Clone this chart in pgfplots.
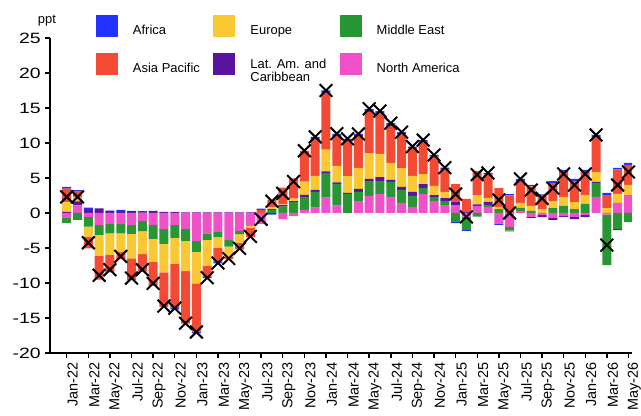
\documentclass[border=0pt]{standalone}
\usepackage{fontspec}
\setmainfont{Liberation Sans}
\newfontfamily\yfont[FakeStretch=1.3]{Liberation Sans}
\usepackage{pgfplots}
\usepackage{pgfplotstable}
\pgfplotsset{compat=1.18}

\definecolor{cAF}{RGB}{34,51,255}
\definecolor{cAP}{RGB}{242,74,53}
\definecolor{cEU}{RGB}{250,200,50}
\definecolor{cLA}{RGB}{90,20,160}
\definecolor{cME}{RGB}{40,150,50}
\definecolor{cNA}{RGB}{240,80,200}

% contributions by region (ppt), month index 0 = Jan-22
\pgfplotstableread{
x  NA    ME    LA    EU    AP    AF    tot
0  -0.70 -0.70  0.15  1.43  1.90  0.24  2.30
1   1.10 -1.00  0.57  0.60  0.80  0.20  2.30
2  -0.55 -1.40  0.55 -1.50 -1.60  0.20 -4.25
3  -1.70 -1.43  0.65 -3.00 -3.40  0.00 -8.90
4  -1.60 -1.30  0.30 -3.10 -2.50  0.05 -8.10
5  -1.60 -1.30  0.25 -2.70 -1.00  0.20 -6.20
6  -1.70 -1.30  0.30 -3.50 -3.10  0.00 -9.30
7  -1.15 -1.43  0.10 -3.30 -2.50  0.15 -8.10
8  -1.70 -2.00  0.30 -3.30 -3.40  0.00 -10.05
9  -2.30 -2.10  0.15 -4.10 -4.90  0.00 -13.30
10 -1.70 -1.86  0.15 -3.70 -6.30 -0.20 -13.60
11 -2.30 -1.70  0.10 -4.30 -7.50  0.00 -15.75
12 -4.00 -1.57  0.10 -4.50 -6.86 -0.24 -17.00
13 -2.90 -0.95  0.10 -3.70 -1.50 -0.24 -9.25
14 -2.70 -0.76  0.10 -1.50 -2.00 -0.24 -7.15
15 -3.86 -0.95  0.10 -1.43 -0.35  0.00 -6.50
16 -2.60 -0.43  0.10 -1.20 -0.95  0.00 -5.05
17 -1.70 -0.10  0.10 -0.30 -1.30  0.00 -3.35
18 -1.57  0.00  0.00  0.00  0.43  0.20 -0.90
19  0.00  0.45  0.10  0.25  1.10 -0.25  1.68
20 -0.86  0.90  0.24  0.10  2.40  0.00  2.80
21 -0.43  1.57  0.14  0.33  2.90  0.00  4.50
22  0.43  1.86  0.30  1.90  4.40  0.00  8.89
23  0.76  2.24  0.29  2.00  5.30  0.29 10.88
24  2.20  3.50  0.24  3.10  8.10  0.38 17.50
25  1.05  3.10  0.24  2.33  4.30  0.29 11.33
26  0.00  2.70  0.19  2.38  5.00  0.33 10.60
27  1.71  1.29  0.43  3.00  4.57  0.29 11.29
28  2.43  2.14  0.29  3.70  5.90  0.43 14.89
29  2.70  1.86  0.57  3.30  5.80  0.33 14.56
30  2.29  2.14  0.29  2.43  5.30  0.38 12.83
31  1.43  1.86  0.43  2.70  4.80  0.33 11.55
32  0.86  1.57  0.57  2.30  4.00  0.19  9.49
33  2.70  0.86  0.57  1.43  4.57  0.29 10.42
34  1.71  0.57  0.29  1.29  4.19  0.24  8.29
35  1.14  0.57  0.43  0.86  3.24  0.24  6.48
36  1.14 -1.29  0.48  0.00  2.52 -0.14  2.71
37 -0.52 -1.90  0.20  0.00  1.80 -0.14 -0.56
38  1.00 -0.52  0.24  1.33  3.43  0.00  5.48
39  0.86  0.29  0.43  0.57  3.38  0.19  5.72
40 -1.57  0.57  0.00  0.29  2.71 -0.14  1.86
41 -2.00 -0.52  0.00 -0.19  2.52  0.19  0.00
42  0.29  0.43  0.00  0.71  3.14  0.29  4.86
43 -0.57  0.29 -0.14  0.71  2.81  0.19  3.29
44 -0.29  0.00 -0.29  0.57  2.00  0.10  2.09
45 -0.71  0.71 -0.29  1.00  2.57  0.29  3.57
46 -0.43  1.00 -0.14  1.29  3.57  0.29  5.58
47 -0.57  0.57 -0.29  1.00  3.00  0.29  4.00
48 -0.29  1.29 -0.29  1.29  3.29  0.29  5.58
49  2.29  2.00  0.14  1.43  5.00  0.29 11.15
50 -0.25 -7.20  0.00  0.71  1.86  0.29 -4.59
51  1.43 -2.29 -0.14  1.29  3.52  0.19  4.00
52  2.57 -1.29  0.00  1.43  2.86  0.29  5.86
}\contrib

\pgfplotsset{
  frame/.style={scale only axis, width=582bp, height=315bp,
    xmin=-1.55, xmax=52.33, ymin=-20, ymax=25},
  bars/.style={frame, ybar stacked, bar width=9bp},
}

\begin{document}
\begin{tikzpicture}
% positive contributions stacked upward, with axes and legend
\begin{axis}[bars, name=ax,
  axis lines=left,
  axis line style={-, line width=1.4bp, black},
  tick style={line width=1.4bp, black},
  tick align=outside,
  major tick length=5bp,
  xtick={0,2,...,52},
  xticklabels={Jan-22,Mar-22,May-22,Jul-22,Sep-22,Nov-22,Jan-23,Mar-23,May-23,Jul-23,Sep-23,Nov-23,Jan-24,Mar-24,May-24,Jul-24,Sep-24,Nov-24,Jan-25,Mar-25,May-25,Jul-25,Sep-25,Nov-25,Jan-26,Mar-26,May-26},
  xticklabel style={font=\fontsize{14.5}{14.5}\selectfont, xshift=6bp, rotate=90, anchor=east, inner sep=0pt},
  xticklabel shift=4bp,
  ytick={-20,-15,...,25},
  yticklabels={-20,-15,-10,-5,0,5,10,15,20,25},
  yticklabel style={font=\yfont\fontsize{15}{15}\selectfont, anchor=east, inner sep=0pt},
  yticklabel shift=4bp,
  legend columns=3,
  legend cell align=left,
  legend image code/.code={\path[#1] (0bp,-6.5bp) rectangle (22bp,15.5bp);},
  legend style={at={(0.079,1.073)}, anchor=north west, draw=none, fill=none,
    inner sep=0pt, outer sep=0pt, row sep=16bp,
    font=\fontsize{13}{11}\selectfont,
    nodes={inner sep=0pt},
    /tikz/every odd column/.append style={column sep=15bp},
    /tikz/every even column/.append style={column sep=13.5bp}},
]
\addlegendimage{fill=cAF, draw=none}
\addlegendentry{Africa}
\addlegendimage{fill=cEU, draw=none}
\addlegendentry{Europe}
\addlegendimage{fill=cME, draw=none}
\addlegendentry{Middle East}
\addlegendimage{fill=cAP, draw=none}
\addlegendentry{Asia Pacific}
\addlegendimage{fill=cLA, draw=none}
\addlegendentry{\raisebox{1.3bp}{\begin{tabular}{@{}l@{}}Lat. Am. and\\Caribbean\end{tabular}}}
\addlegendimage{fill=cNA, draw=none}
\addlegendentry{North America}

\addplot[fill=cNA, draw=none, forget plot] table[x=x, y expr={max(\thisrow{NA},0)}] {\contrib};
\addplot[fill=cME, draw=none, forget plot] table[x=x, y expr={max(\thisrow{ME},0)}] {\contrib};
\addplot[fill=cLA, draw=none, forget plot] table[x=x, y expr={max(\thisrow{LA},0)}] {\contrib};
\addplot[fill=cEU, draw=none, forget plot] table[x=x, y expr={max(\thisrow{EU},0)}] {\contrib};
\addplot[fill=cAP, draw=none, forget plot] table[x=x, y expr={max(\thisrow{AP},0)}] {\contrib};
\addplot[fill=cAF, draw=none, forget plot] table[x=x, y expr={max(\thisrow{AF},0)}] {\contrib};
\end{axis}

% negative contributions stacked downward
\begin{axis}[bars, hide axis]
\addplot[fill=cNA, draw=none] table[x=x, y expr={min(\thisrow{NA},0)}] {\contrib};
\addplot[fill=cME, draw=none] table[x=x, y expr={min(\thisrow{ME},0)}] {\contrib};
\addplot[fill=cLA, draw=none] table[x=x, y expr={min(\thisrow{LA},0)}] {\contrib};
\addplot[fill=cEU, draw=none] table[x=x, y expr={min(\thisrow{EU},0)}] {\contrib};
\addplot[fill=cAP, draw=none] table[x=x, y expr={min(\thisrow{AP},0)}] {\contrib};
\addplot[fill=cAF, draw=none] table[x=x, y expr={min(\thisrow{AF},0)}] {\contrib};
\end{axis}

% total
\begin{axis}[frame, hide axis, clip=false]
\addplot[only marks, mark=x, mark size=9bp, line width=2bp, black] table[x=x, y=tot] {\contrib};
\end{axis}

\node[font=\fontsize{13}{13}\selectfont, anchor=base] at ([shift={(-3bp,14bp)}]ax.north west) {ppt};

\pgfresetboundingbox
\path[use as bounding box] ([shift={(-50bp,-63bp)}]ax.south west) rectangle ++(641bp,416bp);
\end{tikzpicture}
\end{document}
